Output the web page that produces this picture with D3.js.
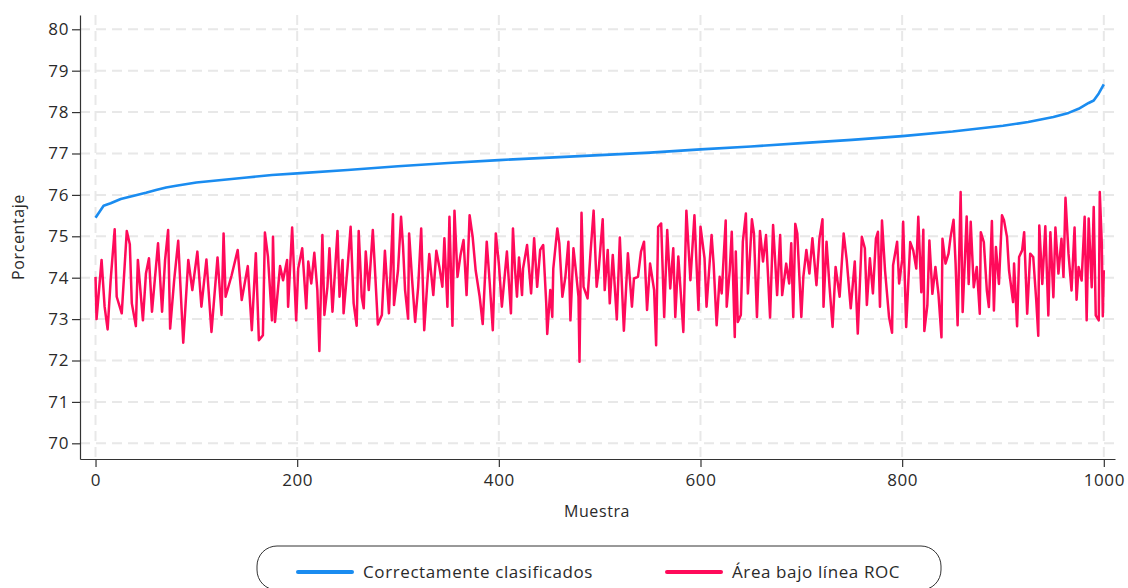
<!DOCTYPE html>
<html>
<head>
<meta charset="utf-8">
<script src="https://cdn.jsdelivr.net/npm/d3@7"></script>
<style>
  html, body { margin: 0; padding: 0; background: #fff; }
  svg { display: block; }
  text { font-family: "Open Sans", Lato, sans-serif; fill: #2a2a2a; }
</style>
</head>
<body>
<svg id="chart" width="1128" height="588"></svg>
<script>
// ---- data ----
const xTicks = [0, 200, 400, 600, 800, 1000];
const yTicks = [70, 71, 72, 73, 74, 75, 76, 77, 78, 79, 80];
const seriesNames = ["Correctamente clasificados", "Área bajo línea ROC"];
const xLabel = "Muestra";
const yLabel = "Porcentaje";

const blueSamples = [0, 8, 15, 25, 40, 50, 60, 70, 80, 100, 125, 150, 175, 200, 250, 300, 350, 400, 450, 500, 550, 600, 650, 700, 750, 800, 850, 900, 925, 950, 965, 975, 985, 990, 995, 1000];
const blueValues  = [75.45, 75.74, 75.8, 75.9, 75.99, 76.05, 76.12, 76.18, 76.22, 76.3, 76.36, 76.42, 76.48, 76.52, 76.6, 76.69, 76.77, 76.84, 76.9, 76.96, 77.02, 77.1, 77.17, 77.25, 77.33, 77.42, 77.53, 77.67, 77.76, 77.88, 77.98, 78.08, 78.22, 78.28, 78.45, 78.67];

const redSamples = [
  0,1,6,9,12,15,19,21,26,31,34,36,40,42,47,50,53,56,62,66,69,72,74,78,82,87,92,96,101,105,110,115,121,125,127,129,135,141,145,151,155,159,162,166,168,171,175,176,178,183,186,190,191,195,199,
  201,205,209,211,214,217,220,222,225,227,230,232,235,240,242,245,246,250,253,256,259,261,264,266,268,271,275,277,280,284,287,291,295,296,300,303,305,307,310,311,314,317,320,323,326,329,331,335,338,341,344,346,349,351,354,356,359,362,365,368,371,374,377,381,384,388,391,394,397,400,403,
  408,412,414,416,418,420,423,424,428,432,435,438,441,444,447,448,451,453,454,458,460,463,466,469,471,474,476,479,480,482,484,488,491,494,497,499,503,505,508,510,513,517,520,524,528,532,534,538,541,544,547,550,554,556,558,561,564,567,570,573,575,578,583,586,590,594,598,600,604,
  606,611,613,616,619,621,625,626,629,631,634,635,637,640,642,645,647,651,653,656,659,662,665,669,672,676,679,681,685,688,690,692,694,696,700,702,705,708,711,715,718,721,722,725,728,731,734,738,742,745,749,753,756,760,763,765,768,771,774,776,778,780,783,787,790,791,795,797,800,801,804,
  808,811,814,816,819,821,822,825,827,830,833,836,839,840,843,846,848,851,853,855,858,860,864,866,868,871,874,877,878,881,884,886,889,891,893,896,899,901,904,906,910,911,914,916,919,921,924,927,930,933,935,936,939,942,945,947,950,952,955,958,960,962,965,968,971,973,975,978,981,983,985,988,990,992,995,996,998,999,1000
];
const redValues = [
  74.02,73.0,74.43,73.3,72.75,73.94,75.17,73.54,73.14,75.13,74.81,73.38,72.83,74.43,72.97,74.1,74.47,73.18,74.83,73.18,74.43,75.15,72.77,73.94,74.89,72.43,74.43,73.7,74.63,73.3,74.44,72.69,74.49,73.1,75.07,73.54,74.06,74.67,73.46,74.28,72.73,74.59,72.49,72.61,75.09,74.51,72.97,74.99,72.93,74.28,73.94,74.43,73.3,75.21,72.97,
  74.22,74.71,73.26,74.39,73.86,74.6,73.7,72.23,75.03,73.1,73.78,74.71,73.18,75.13,73.54,74.43,73.14,74.26,75.23,73.38,72.84,75.13,73.54,73.26,74.63,73.7,75.15,74.26,72.87,73.1,74.65,73.14,75.53,73.34,74.18,75.47,74.75,73.7,73.01,75.07,73.94,72.93,73.78,75.19,72.73,73.86,74.57,73.58,74.65,74.26,73.78,74.95,73.3,75.47,72.84,75.62,74.02,74.55,74.91,73.58,75.51,74.99,74.18,73.54,72.88,74.87,73.86,72.73,75.07,74.34,73.3,
  74.63,73.14,75.19,74.22,73.54,74.49,73.58,74.22,74.79,73.62,74.95,73.78,74.67,74.79,73.38,72.64,73.7,73.05,74.22,75.19,74.83,73.54,74.02,74.87,72.97,74.71,74.26,73.54,71.97,75.57,73.78,73.5,74.63,75.62,73.78,74.18,75.41,73.7,74.67,73.38,74.55,72.99,74.97,72.72,74.59,73.3,73.98,74.02,74.63,74.87,73.22,74.34,73.7,72.37,75.23,75.31,73.05,75.15,73.74,74.71,73.05,74.51,72.69,75.62,73.94,75.51,73.22,75.23,74.47,
  73.3,75.03,74.34,72.85,74.02,73.62,75.38,73.3,74.18,75.11,72.57,74.63,72.93,73.1,74.87,75.55,73.62,75.41,75.07,73.05,75.13,74.39,75.03,73.04,75.27,73.58,75.03,73.58,74.34,73.86,74.83,73.05,75.3,75.07,73.05,74.02,74.67,74.1,74.95,73.82,74.95,75.41,73.3,74.87,73.78,72.81,74.26,73.54,75.07,74.43,73.26,74.39,72.65,74.99,74.71,73.34,74.47,73.62,74.95,75.11,73.3,75.38,74.18,73.05,72.67,74.3,74.87,73.86,74.43,75.35,72.81,
  74.86,74.66,74.22,75.47,73.65,75.16,72.71,73.33,74.9,73.61,74.26,73.61,72.56,74.94,74.34,74.58,74.98,75.4,74.34,72.85,76.07,73.17,75.48,73.85,75.35,73.77,74.26,73.13,75.1,74.86,73.69,73.29,75.37,73.21,74.74,73.85,75.51,75.39,74.98,74.18,73.41,74.34,72.83,74.5,74.66,75.1,73.13,74.58,74.5,73.45,72.6,75.26,73.85,75.24,73.09,75.1,73.53,75.21,74.1,74.94,74.02,75.93,74.58,73.69,75.21,73.47,74.26,73.93,75.47,72.97,75.43,73.77,75.71,73.09,72.97,76.07,74.82,73.07,74.18
];

const colors = ["#1a8cf0", "#ff0a5a"];

// ---- layout ----
const plot = { left: 80, right: 1115, top: 15, bottom: 459 };
const svg = d3.select("#chart");

const x = d3.scaleLinear().domain([-15.4, 1011.1]).range([plot.left, plot.right]);
const y = d3.scaleLinear().domain([69.621, 80.345]).range([plot.bottom, plot.top]);

// gridlines
const grid = svg.append("g").attr("stroke", "#e8e8e8").attr("stroke-width", 2).attr("stroke-dasharray", "10,6");
grid.selectAll("line.h").data(yTicks).join("line")
  .attr("x1", plot.left).attr("x2", plot.right)
  .attr("y1", d => y(d)).attr("y2", d => y(d));
grid.selectAll("line.v").data(xTicks).join("line")
  .attr("y1", plot.top).attr("y2", plot.bottom)
  .attr("x1", d => x(d)).attr("x2", d => x(d));

// lines
const blueData = blueSamples.map((s, i) => [s, blueValues[i]]);
const redData = redSamples.map((s, i) => [s, redValues[i]]);
const line = d3.line().x(d => x(d[0])).y(d => y(d[1]));

svg.append("path").datum(redData)
  .attr("fill", "none").attr("stroke", colors[1]).attr("stroke-width", 2.5)
  .attr("stroke-linejoin", "round").attr("d", line);
svg.append("path").datum(blueData)
  .attr("fill", "none").attr("stroke", colors[0]).attr("stroke-width", 2.6)
  .attr("stroke-linejoin", "round").attr("d", line);

// axes
const fontSize = 17;
const yAxis = svg.append("g").attr("transform", `translate(${plot.left},0)`)
  .call(d3.axisLeft(y).tickValues(yTicks).tickFormat(d3.format("d")).tickSize(8).tickSizeOuter(0).tickPadding(3));
const xAxis = svg.append("g").attr("transform", `translate(0,${plot.bottom})`)
  .call(d3.axisBottom(x).tickValues(xTicks).tickFormat(d3.format("d")).tickSize(8).tickSizeOuter(0).tickPadding(7));
[xAxis, yAxis].forEach(a => {
  a.select(".domain").attr("stroke", "#333").attr("stroke-width", 1.2);
  a.selectAll(".tick line").attr("stroke", "#333").attr("stroke-width", 1.2);
  a.selectAll(".tick text").attr("font-size", fontSize).attr("fill", "#2a2a2a")
    .attr("letter-spacing", "0.6px")
    .attr("font-family", '"Open Sans", Lato, sans-serif');
});

// axis titles
svg.append("text").attr("x", 597).attr("y", 517)
  .attr("text-anchor", "middle").attr("font-size", 16).attr("letter-spacing", "0.6px").text(xLabel);
svg.append("text").attr("transform", `translate(24,${(plot.top + plot.bottom) / 2}) rotate(-90)`)
  .attr("text-anchor", "middle").attr("font-size", 16).attr("letter-spacing", "0.6px").text(yLabel);

// legend
const lg = svg.append("g");
lg.append("rect").attr("x", 257).attr("y", 546).attr("width", 684).attr("height", 44)
  .attr("rx", 20).attr("ry", 20).attr("fill", "none").attr("stroke", "#333").attr("stroke-width", 1);
const legendItems = [
  { name: seriesNames[0], color: colors[0], x0: 298 },
  { name: seriesNames[1], color: colors[1], x0: 667 }
];
legendItems.forEach(it => {
  lg.append("line").attr("x1", it.x0).attr("x2", it.x0 + 54).attr("y1", 572).attr("y2", 572)
    .attr("stroke", it.color).attr("stroke-width", 4).attr("stroke-linecap", "round");
  lg.append("text").attr("x", it.x0 + 65).attr("y", 578).attr("font-size", 17)
    .attr("letter-spacing", "0.6px").text(it.name);
});
</script>
</body>
</html>
